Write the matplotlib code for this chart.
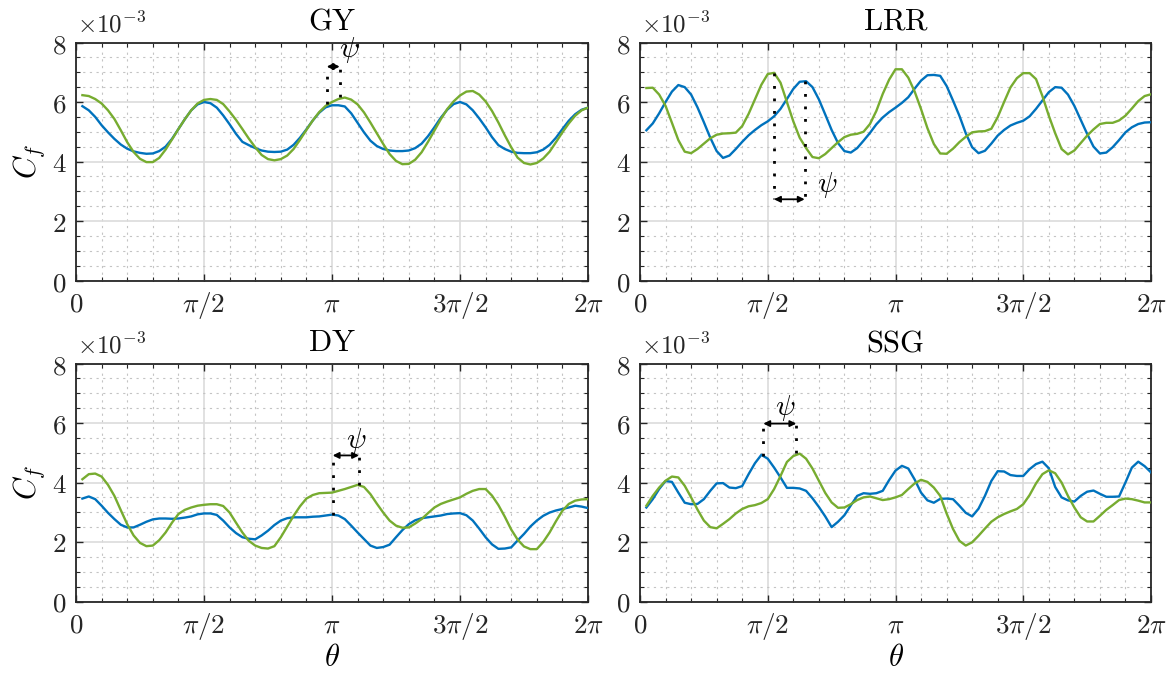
import numpy as np
import matplotlib
matplotlib.use('Agg')
import matplotlib.pyplot as plt
from matplotlib.ticker import MultipleLocator, FixedLocator

plt.rcParams['mathtext.fontset'] = 'cm'
plt.rcParams['font.family'] = ['DejaVu Serif']

# sample positions (theta), step pi/40
theta = np.arange(1, 81) * np.pi / 40

# C_f values in units of 1e-3
gy_blue = [5.86, 5.72, 5.50, 5.22, 4.98, 4.76, 4.57, 4.43, 4.34, 4.29,
           4.26, 4.27, 4.35, 4.50, 4.76, 5.09, 5.42, 5.72, 5.92, 6.00,
           5.96, 5.81, 5.55, 5.25, 4.93, 4.66, 4.55, 4.45, 4.37, 4.33,
           4.32, 4.33, 4.40, 4.56, 4.80, 5.08, 5.38, 5.64, 5.82, 5.89,
           5.89, 5.85, 5.62, 5.30, 4.98, 4.70, 4.52, 4.42, 4.37, 4.35,
           4.35, 4.37, 4.45, 4.60, 4.85, 5.15, 5.47, 5.74, 5.93, 6.00,
           5.92, 5.72, 5.45, 5.15, 4.82, 4.55, 4.42, 4.33, 4.29, 4.28,
           4.28, 4.31, 4.40, 4.56, 4.80, 5.09, 5.37, 5.59, 5.74, 5.81]
gy_green = [6.23, 6.20, 6.10, 5.95, 5.72, 5.43, 5.05, 4.65, 4.32, 4.09,
            3.98, 3.98, 4.12, 4.40, 4.74, 5.09, 5.42, 5.72, 5.95, 6.07,
            6.10, 6.07, 5.93, 5.68, 5.40, 5.09, 4.77, 4.48, 4.22, 4.08,
            4.04, 4.08, 4.20, 4.42, 4.73, 5.06, 5.38, 5.66, 5.87, 6.00,
            6.10, 6.15, 6.08, 5.92, 5.65, 5.31, 4.95, 4.59, 4.25, 4.02,
            3.91, 3.92, 4.06, 4.31, 4.66, 5.04, 5.42, 5.76, 6.02, 6.22,
            6.35, 6.37, 6.25, 6.02, 5.70, 5.31, 4.88, 4.48, 4.13, 3.95,
            3.90, 3.95, 4.10, 4.33, 4.65, 4.98, 5.28, 5.54, 5.72, 5.81]
lrr_blue = [5.05, 5.28, 5.62, 6.00, 6.35, 6.57, 6.50, 6.25, 5.82, 5.32,
            4.80, 4.35, 4.12, 4.20, 4.42, 4.66, 4.88, 5.06, 5.22, 5.35,
            5.52, 5.77, 6.10, 6.44, 6.68, 6.70, 6.50, 6.09, 5.58, 5.06,
            4.62, 4.35, 4.30, 4.45, 4.70, 4.96, 5.25, 5.48, 5.66, 5.81,
            5.97, 6.16, 6.45, 6.72, 6.90, 6.91, 6.88, 6.54, 6.05, 5.54,
            4.95, 4.48, 4.28, 4.36, 4.60, 4.87, 5.06, 5.21, 5.30, 5.37,
            5.52, 5.77, 6.05, 6.33, 6.50, 6.48, 6.25, 5.87, 5.40, 4.93,
            4.50, 4.27, 4.30, 4.48, 4.72, 4.98, 5.15, 5.26, 5.31, 5.32]
lrr_green = [6.47, 6.48, 6.25, 5.87, 5.30, 4.72, 4.33, 4.28, 4.42, 4.60,
             4.78, 4.90, 4.94, 4.95, 4.97, 5.19, 5.60, 6.09, 6.58, 6.94,
             6.98, 6.65, 6.00, 5.35, 4.80, 4.45, 4.15, 4.11, 4.25, 4.45,
             4.65, 4.82, 4.90, 4.93, 5.00, 5.26, 5.70, 6.27, 6.75, 7.10,
             7.10, 6.82, 6.35, 5.76, 5.12, 4.59, 4.27, 4.26, 4.43, 4.65,
             4.83, 4.98, 5.01, 5.02, 5.10, 5.49, 6.00, 6.49, 6.80, 6.97,
             6.97, 6.77, 6.20, 5.54, 4.95, 4.42, 4.24, 4.37, 4.62, 4.87,
             5.08, 5.26, 5.30, 5.30, 5.38, 5.54, 5.78, 6.03, 6.20, 6.26]
dy_blue = [3.46, 3.53, 3.44, 3.22, 2.98, 2.77, 2.58, 2.49, 2.49, 2.58,
           2.68, 2.76, 2.79, 2.79, 2.78, 2.79, 2.82, 2.86, 2.93, 2.96,
           2.96, 2.91, 2.72, 2.49, 2.30, 2.16, 2.11, 2.09, 2.22, 2.38,
           2.57, 2.72, 2.80, 2.83, 2.83, 2.83, 2.85, 2.86, 2.89, 2.92,
           2.89, 2.77, 2.55, 2.32, 2.10, 1.88, 1.80, 1.83, 1.91, 2.16,
           2.40, 2.60, 2.73, 2.80, 2.83, 2.86, 2.89, 2.94, 2.96, 2.97,
           2.90, 2.72, 2.45, 2.16, 1.92, 1.77, 1.78, 1.82, 2.05, 2.27,
           2.52, 2.72, 2.88, 2.99, 3.06, 3.11, 3.16, 3.22, 3.19, 3.14]
dy_green = [4.11, 4.28, 4.30, 4.20, 3.92, 3.55, 3.07, 2.60, 2.22, 1.97,
            1.86, 1.88, 2.06, 2.32, 2.65, 2.94, 3.08, 3.16, 3.22, 3.25,
            3.27, 3.27, 3.21, 2.99, 2.65, 2.32, 2.04, 1.88, 1.80, 1.78,
            1.86, 2.16, 2.52, 2.88, 3.20, 3.46, 3.58, 3.64, 3.65, 3.66,
            3.72, 3.78, 3.85, 3.92, 3.85, 3.61, 3.29, 2.99, 2.72, 2.55,
            2.48, 2.49, 2.62, 2.77, 2.97, 3.16, 3.28, 3.36, 3.43, 3.50,
            3.62, 3.72, 3.78, 3.78, 3.56, 3.24, 2.85, 2.42, 2.08, 1.85,
            1.76, 1.76, 2.00, 2.32, 2.70, 3.05, 3.28, 3.39, 3.43, 3.44]
ssg_blue = [3.16, 3.44, 3.78, 4.05, 4.02, 3.66, 3.32, 3.27, 3.28, 3.44,
            3.72, 3.97, 3.98, 3.83, 3.81, 3.88, 4.28, 4.65, 4.93, 4.80,
            4.50, 4.17, 3.82, 3.82, 3.80, 3.72, 3.47, 3.18, 2.86, 2.50,
            2.68, 2.90, 3.23, 3.55, 3.64, 3.62, 3.64, 3.72, 4.08, 4.40,
            4.56, 4.47, 4.10, 3.66, 3.40, 3.32, 3.45, 3.46, 3.44, 3.22,
            2.98, 2.86, 3.12, 3.55, 4.05, 4.38, 4.37, 4.25, 4.22, 4.22,
            4.45, 4.62, 4.70, 4.48, 3.85, 3.50, 3.40, 3.36, 3.55, 3.69,
            3.73, 3.62, 3.52, 3.52, 3.53, 4.00, 4.50, 4.70, 4.55, 4.34]
ssg_green = [3.22, 3.55, 3.83, 4.06, 4.20, 4.17, 3.89, 3.50, 3.09, 2.72,
             2.50, 2.46, 2.61, 2.77, 2.96, 3.11, 3.20, 3.24, 3.31, 3.44,
             3.78, 4.22, 4.69, 4.89, 4.97, 4.80, 4.47, 4.06, 3.65, 3.33,
             3.15, 3.16, 3.27, 3.41, 3.50, 3.53, 3.47, 3.41, 3.44, 3.50,
             3.58, 3.78, 3.97, 4.09, 4.02, 3.83, 3.55, 2.96, 2.44, 2.04,
             1.88, 1.99, 2.21, 2.45, 2.68, 2.83, 2.94, 3.03, 3.11, 3.27,
             3.58, 3.97, 4.28, 4.41, 4.31, 4.00, 3.55, 3.16, 2.83, 2.69,
             2.69, 2.88, 3.08, 3.24, 3.41, 3.46, 3.44, 3.39, 3.33, 3.33]

titles = ['GY', 'LRR', 'DY', 'SSG']
blue_series = [gy_blue, lrr_blue, dy_blue, ssg_blue]
green_series = [gy_green, lrr_green, dy_green, ssg_green]

# psi annotations
psi_t1 = [3.077, 1.648, 3.150, 1.516]
psi_t2 = [3.236, 2.025, 3.473, 1.922]
psi_y1 = [5.93, 6.98, 2.90, 4.90]
psi_y2 = [6.18, 6.70, 3.90, 5.00]
psi_yarrow = [7.19, 2.73, 4.91, 5.98]
psi_lx = [3.35, 2.30, 3.44, 1.79]
psi_ly = [7.75, 3.22, 5.40, 6.50]

xtick_vals = [0, np.pi / 2, np.pi, 3 * np.pi / 2, 2 * np.pi]
xtick_labels = [r'$0$', r'$\pi/2$', r'$\pi$', r'$3\pi/2$', r'$2\pi$']
ytick_vals = [0, 2, 4, 6, 8]
ytick_labels = [r'$0$', r'$2$', r'$4$', r'$6$', r'$8$']

BLUE = '#0072BD'
GREEN = '#77AC30'

W, H = 1170, 674
fig = plt.figure(figsize=(W / 100, H / 100), dpi=100)

positions = [
    (76, 42.5, 512, 238),
    (640, 42.5, 511, 238),
    (76, 363.5, 512, 238),
    (640, 363.5, 511, 238),
]

for i, (px, py, pw, ph) in enumerate(positions):
    ax = fig.add_axes([px / W, 1 - (py + ph) / H, pw / W, ph / H])
    ax.set_xlim(0, 2 * np.pi)
    ax.set_ylim(0, 8)
    ax.xaxis.set_major_locator(FixedLocator(xtick_vals))
    ax.xaxis.set_minor_locator(MultipleLocator(np.pi / 10))
    ax.yaxis.set_major_locator(FixedLocator(ytick_vals))
    ax.yaxis.set_minor_locator(MultipleLocator(0.5))
    ax.set_xticklabels(xtick_labels)
    ax.set_yticklabels(ytick_labels)
    ax.tick_params(which='both', direction='in', top=True, right=True,
                   colors='#262626', labelcolor='#262626')
    ax.tick_params(which='major', length=5, width=1.0, labelsize=19.5, pad=7)
    ax.tick_params(which='minor', length=3, width=0.8)
    ax.grid(which='major', color='#dcdcdc', lw=1.2, ls='-')
    ax.grid(which='minor', color='#c4c4c4', lw=0.8, ls=(0, (2, 4)))
    ax.set_axisbelow(True)
    for s in ax.spines.values():
        s.set_color('#262626')
        s.set_linewidth(1.3)

    ax.plot(theta, blue_series[i], color=BLUE, lw=1.7, zorder=3)
    ax.plot(theta, green_series[i], color=GREEN, lw=1.7, zorder=3)

    # psi annotation
    ya = psi_yarrow[i]
    ax.plot([psi_t1[i], psi_t1[i]], [psi_y1[i], ya], color='k', lw=2.0,
            ls=(0, (1, 3.5)), zorder=4)
    ax.plot([psi_t2[i], psi_t2[i]], [psi_y2[i], ya], color='k', lw=2.0,
            ls=(0, (1, 3.5)), zorder=4)
    ax.annotate('', xy=(psi_t1[i], ya), xytext=(psi_t2[i], ya),
                arrowprops=dict(arrowstyle='<|-|>', color='k', lw=1.3,
                                mutation_scale=9, shrinkA=0, shrinkB=0),
                zorder=5)
    ax.text(psi_lx[i], psi_ly[i], r'$\psi$', fontsize=21, ha='center',
            va='center', zorder=5)

    ax.set_title(r'$\mathrm{' + titles[i] + '}$', fontsize=22, pad=9,
                 color='#000000')
    ax.text(0.002, 1.02, r'$\times 10^{-3}$', transform=ax.transAxes,
            fontsize=18, ha='left', va='bottom', color='#262626')
    if i in (0, 2):
        ax.set_ylabel(r'$C_f$', fontsize=22, labelpad=3)
    if i in (2, 3):
        ax.set_xlabel(r'$\theta$', fontsize=22, labelpad=0)

fig.savefig('out.png', dpi=100)
